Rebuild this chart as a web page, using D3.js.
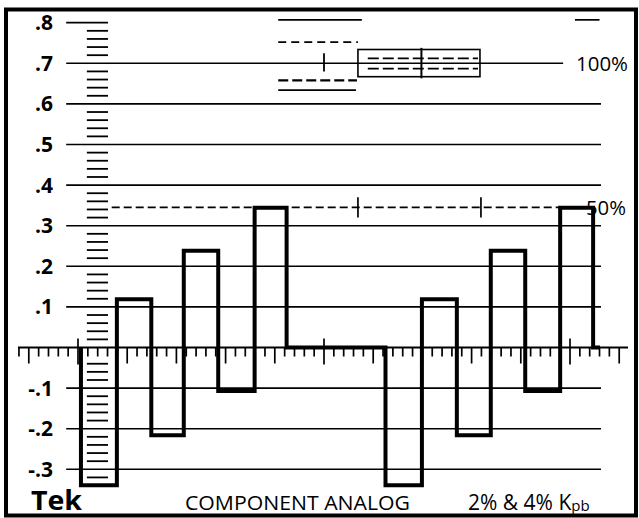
<!DOCTYPE html>
<html>
<head>
<meta charset="utf-8">
<script src="https://cdn.jsdelivr.net/npm/d3@7"></script>
<style>
  html, body { margin: 0; padding: 0; background: #fff; }
  svg { display: block; }
</style>
</head>
<body>
<script>
// ---------- data ----------
// vertical graticule (volts)
const gridValues = [0.7, 0.6, 0.5, 0.4, 0.3, 0.2, 0.1, -0.1, -0.2, -0.3];
const tickValues = [0.8, 0.7, 0.6, 0.5, 0.4, 0.3, 0.2, 0.1, -0.1, -0.2, -0.3];
const tickLabels = [".8", ".7", ".6", ".5", ".4", ".3", ".2", ".1", "-.1", "-.2", "-.3"];
// fine ladder marks (every 0.02 V)
const ladderValues = d3.range(-16, 40).map(i => i / 50)
  .filter(v => Math.abs(Math.round(v * 10) - v * 10) > 1e-6 && Math.abs(v + 0.02) > 1e-6);
// waveform: Pb colour-bar steps (time in graticule units, level in volts)
const waveTimes  = [0.06, 0.79, 1.49, 2.15, 2.85, 3.59, 4.24, 6.25, 6.99, 7.70, 8.39, 9.09, 9.80, 10.47, 10.61];
const waveLevels = [-0.339, 0.119, -0.216, 0.238, -0.107, 0.344, 0, -0.339, 0.119, -0.216, 0.238, -0.107, 0.344, 0];
// 50% reference and K-factor targets
const halfLevel = 0.345;
const halfCrosses = [5.69, 8.19];
const fullLevel = 0.7;
const kSolid  = [{v: 0.807, t0: 4.07, t1: 5.77}, {v: 0.634, t0: 4.07, t1: 5.65}, {v: 0.807, t0: 10.1, t1: 10.6}];
const kDashed = [{v: 0.752, t0: 4.07, t1: 5.69}, {v: 0.658, t0: 4.07, t1: 5.67}];
const kBox = {t0: 5.69, t1: 8.17, v0: 0.667, v1: 0.734, mid: 6.98};
const kBoxDashes = [0.712, 0.687];
const majorTicks = [0, 5, 10];

// ---------- layout ----------
const W = 639, H = 518;
const x = d3.scaleLinear().domain([0, 10]).range([78, 570]);
const y = d3.scaleLinear().domain([0, 0.8]).range([347.5, 22.7]);

const svg = d3.select("body").append("svg").attr("width", W).attr("height", H);
svg.append("rect").attr("width", W).attr("height", H).attr("fill", "#fff");

const g = svg.append("g").attr("stroke", "#000").attr("fill", "none");

// frame
svg.append("rect").attr("x", 6).attr("y", 9.5).attr("width", 630).attr("height", 506)
  .attr("fill", "none").attr("stroke", "#000").attr("stroke-width", 4);

// gridlines
g.selectAll("line.grid").data(gridValues).join("line")
  .attr("x1", x(-0.24))
  .attr("x2", d => d === fullLevel ? x(9.86) : x(10.63))
  .attr("y1", d => y(d)).attr("y2", d => y(d))
  .attr("stroke-width", 1.6);
// .8 short mark at left
g.append("line").attr("x1", x(-0.24)).attr("x2", x(0.61))
  .attr("y1", y(0.8)).attr("y2", y(0.8)).attr("stroke-width", 1.8);

// ladder
g.selectAll("line.ladder").data(ladderValues).join("line")
  .attr("x1", x(0.18)).attr("x2", x(0.61))
  .attr("y1", d => y(d)).attr("y2", d => y(d))
  .attr("stroke-width", 1.8);

// zero line with ticks
g.append("line").attr("x1", x(-1.22)).attr("x2", x(11.18))
  .attr("y1", y(0)).attr("y2", y(0)).attr("stroke-width", 2);
const minorT = d3.range(-6, 56).map(i => i / 5);
g.selectAll("line.minor").data(minorT).join("line")
  .attr("x1", d => x(d)).attr("x2", d => x(d))
  .attr("y1", y(0))
  .attr("y2", d => {
    if (majorTicks.some(m => Math.abs(m - d) < 1e-6)) return y(0) + 17;
    if (Math.abs(d - Math.round(d)) < 1e-6) return y(0) + 16;
    return y(0) + 9;
  })
  .attr("stroke-width", 1.7);
g.selectAll("line.major").data(majorTicks).join("line")
  .attr("x1", d => x(d)).attr("x2", d => x(d))
  .attr("y1", y(0) - 9).attr("y2", y(0))
  .attr("stroke-width", 1.7);

// 50% dashed line with crosses
g.append("line").attr("x1", x(0.685)).attr("x2", x(10.26))
  .attr("y1", y(halfLevel)).attr("y2", y(halfLevel))
  .attr("stroke-width", 1.7).attr("stroke-dasharray", "8,4");
g.selectAll("line.cross").data(halfCrosses).join("line")
  .attr("x1", d => x(d)).attr("x2", d => x(d))
  .attr("y1", y(halfLevel + 0.025)).attr("y2", y(halfLevel - 0.025))
  .attr("stroke-width", 1.7);

// K-factor target marks
g.selectAll("line.ks").data(kSolid).join("line")
  .attr("x1", d => x(d.t0)).attr("x2", d => x(d.t1))
  .attr("y1", d => y(d.v)).attr("y2", d => y(d.v))
  .attr("stroke-width", 1.7);
g.selectAll("line.kd").data(kDashed).join("line")
  .attr("x1", d => x(d.t0)).attr("x2", d => x(d.t1))
  .attr("y1", d => y(d.v)).attr("y2", d => y(d.v))
  .attr("stroke-width", (d, i) => i === 0 ? 1.7 : 2.4)
  .attr("stroke-dasharray", (d, i) => i === 0 ? "8,5" : "10,4");
g.append("line").attr("x1", x(5)).attr("x2", x(5))
  .attr("y1", y(fullLevel + 0.025)).attr("y2", y(fullLevel - 0.02))
  .attr("stroke-width", 1.8);
g.append("rect")
  .attr("x", x(kBox.t0)).attr("y", y(kBox.v1))
  .attr("width", x(kBox.t1) - x(kBox.t0)).attr("height", y(kBox.v0) - y(kBox.v1))
  .attr("stroke-width", 1.6);
g.selectAll("line.kbd").data(kBoxDashes).join("line")
  .attr("x1", x(kBox.t0 + 0.2)).attr("x2", x(kBox.t1 - 0.04))
  .attr("y1", d => y(d)).attr("y2", d => y(d))
  .attr("stroke-width", 1.8).attr("stroke-dasharray", "11,4");
g.append("line").attr("x1", x(kBox.mid)).attr("x2", x(kBox.mid))
  .attr("y1", y(kBox.v1 + 0.004)).attr("y2", y(kBox.v0 - 0.004))
  .attr("stroke-width", 2);

// labels
const font = "'Open Sans', 'Noto Sans', sans-serif";
svg.selectAll("text.ylab").data(tickValues).join("text")
  .attr("x", 53).attr("y", d => y(d) + 7.5)
  .attr("text-anchor", "end")
  .attr("font-family", font).attr("font-weight", "bold").attr("font-size", 21)
  .text((d, i) => tickLabels[i]);

svg.append("text").attr("x", 576).attr("y", y(fullLevel) + 8)
  .attr("font-family", font).attr("font-size", 20)
  .attr("textLength", 52).attr("lengthAdjust", "spacingAndGlyphs").text("100%");
svg.append("text").attr("x", 586).attr("y", y(halfLevel) + 7.5)
  .attr("font-family", font).attr("font-size", 20)
  .attr("textLength", 40).attr("lengthAdjust", "spacingAndGlyphs").text("50%");

// waveform
const pts = [[waveTimes[0], 0]].concat(waveLevels.map((v, i) => [waveTimes[i], v]))
  .concat([[waveTimes[waveTimes.length - 1], waveLevels[waveLevels.length - 1]]]);
g.append("path")
  .attr("d", d3.line().x(d => x(d[0])).y(d => y(d[1])).curve(d3.curveStepAfter)(pts))
  .attr("stroke-width", 4).attr("stroke-linejoin", "miter");

// bottom texts
svg.append("text").attr("x", 31).attr("y", 510)
  .attr("font-family", font).attr("font-weight", "bold").attr("font-size", 26)
  .attr("textLength", 51).attr("lengthAdjust", "spacingAndGlyphs").text("Tek");
svg.append("text").attr("x", 185).attr("y", 510)
  .attr("font-family", font).attr("font-size", 20)
  .attr("textLength", 225).attr("lengthAdjust", "spacingAndGlyphs").text("COMPONENT ANALOG");
const kt = svg.append("text").attr("x", 468).attr("y", 510)
  .attr("font-family", font).attr("font-size", 21);
kt.append("tspan").text("2% & 4% K");
kt.append("tspan").attr("font-size", 15).attr("dy", 1).text("pb");
</script>
</body>
</html>
